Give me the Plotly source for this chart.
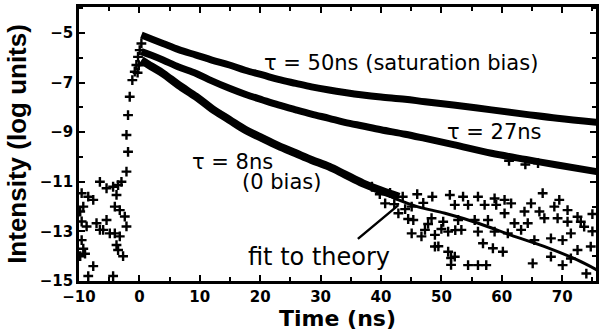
import plotly.graph_objects as go

# ---- data ----
t_curve = [0.33, 2, 3.9, 6.5, 9.4, 12, 14.9, 17.5, 20.4, 23, 25.9, 28.5, 31.4, 34, 37, 40, 44, 47.3, 52, 58.3, 64, 69.2, 75.8]
v_tau50 = [-5.08, -5.24, -5.42, -5.67, -5.89, -6.09, -6.29, -6.5, -6.69, -6.87, -7.03, -7.17, -7.3, -7.4, -7.5, -7.58, -7.67, -7.77, -7.9, -8.10, -8.28, -8.44, -8.6]
v_tau27 = [-5.75, -5.9, -6.09, -6.37, -6.63, -6.93, -7.23, -7.47, -7.70, -7.9, -8.10, -8.27, -8.44, -8.6, -8.75, -8.9, -9.08, -9.25, -9.5, -9.85, -10.1, -10.32, -10.59]
t_tau8 = [0.33, 2, 3.9, 6.5, 9.4, 12, 14.9, 17.5, 20.4, 23, 25.9, 28.5, 31.4, 34, 37, 40, 43]
v_tau8 = [-6.09, -6.35, -6.63, -7.1, -7.57, -8.05, -8.5, -8.9, -9.25, -9.55, -9.85, -10.12, -10.39, -10.7, -11.06, -11.35, -11.6]

fit_t = [31.4, 34, 37, 40, 42.9, 46, 50.6, 56.1, 61.5, 67.0, 72.5, 75.8]
fit_v = [-10.39, -10.7, -11.06, -11.4, -11.73, -12.0, -12.27, -12.67, -13.15, -13.6, -14.15, -14.56]

rise_t = [-2.14, -1.88, -2.14, -1.88, -1.60, -1.17, -0.77, -0.50, -0.23, 0.05, 0.33, -0.3, -0.1]
rise_v = [-10.59, -9.79, -9.11, -8.31, -7.57, -6.90, -6.56, -6.29, -5.96, -5.69, -5.42, -6.6, -6.3]

pre_t = [-9.56, -9.29, -8.47, -7.64, -6.54, -5.44, -4.35, -3.79, -4.07, -3.25, -3.53, -2.97, -9.56, -8.74,
         -7.1, -6.54, -5.44, -4.9, -4.07, -3.25, -2.42, -2.14, -3.79, -2.7, -9.56, -9.29, -7.64, -8.47,
         -4.35, -9.0, -6.0, -3.53, -9.8, -9.8]
pre_v = [-11.46, -12.0, -11.6, -11.73, -11.0, -11.26, -11.2, -11.53, -12.0, -12.14, -11.13, -11.0, -12.6, -12.8,
         -12.67, -12.94, -12.54, -13.08, -13.08, -13.2, -12.4, -12.8, -13.55, -14.0, -13.35, -13.7, -14.4, -14.8,
         -14.8, -13.9, -12.94, -13.75, -12.2, -14.0]

tail_t = [40.69, 42.88, 45.08, 51.40, 53.59, 56.06, 58.81, 60.46, 66.77, 69.52, 52.22, 54.42, 57.16, 59.08,
          61.55, 64.85, 63.76, 66.23, 68.70, 70.89, 72.54, 73.08, 45.35, 48.37, 50.30, 52.77, 55.52, 57.71,
          60.46, 62.10, 64.30, 67.05, 69.24, 70.89, 45.08, 47.28, 48.93, 51.12, 53.31, 56.06, 58.81, 61.0,
          63.20, 65.40, 68.14, 70.07, 71.44, 73.64, 56.89, 58.53, 60.18, 48.93, 51.12, 52.22, 54.42, 56.06,
          57.43, 65.12, 68.14, 71.44, 70.07, 72.54, 74.73, 44.5, 47.8, 50.0, 52.3, 46.7, 49.5, 51.6, 51.6,
          61.2, 63.9, 66.0, 75.0, 75.0, 74.0, 38.5, 39.8, 41.5, 42.2, 43.6, 44.0, 46.0, 47.0, 48.5]
tail_v = [-11.87, -12.27, -12.0, -11.53, -11.60, -11.60, -11.67, -11.73, -11.46, -11.73, -11.93, -11.93, -11.93, -11.93,
          -11.87, -11.87, -12.20, -12.20, -12.00, -12.14, -12.41, -12.61, -12.54, -12.47, -12.61, -12.54, -12.54, -12.54,
          -12.27, -12.67, -12.67, -12.47, -12.47, -12.61, -13.08, -12.94, -13.14, -13.01, -12.94, -13.01, -13.01, -13.08,
          -12.94, -13.35, -13.28, -13.35, -13.08, -12.81, -13.48, -13.68, -13.82, -13.61, -13.82, -14.02, -14.36, -14.36,
          -14.36, -14.29, -14.02, -14.09, -14.36, -13.75, -13.61, -12.5, -12.7, -12.9, -12.95, -13.2, -13.6, -14.07, -14.35,
          -10.15, -10.3, -10.25, -12.3, -13.0, -14.7, -11.2, -11.5, -11.45, -11.9, -11.6, -12.1, -11.5, -11.85, -11.6]

labels = ["τ = 50ns (saturation bias)", "τ = 27ns", "τ = 8ns", "(0 bias)", "fit to theory"]

BLACK = "#000000"
fig = go.Figure()

cross = dict(symbol="cross-thin", size=7, color=BLACK, line=dict(color=BLACK, width=2.4))

fig.add_trace(go.Scatter(x=pre_t, y=pre_v, mode="markers", marker=cross, showlegend=False))
fig.add_trace(go.Scatter(x=rise_t, y=rise_v, mode="markers", marker=cross, showlegend=False))
fig.add_trace(go.Scatter(x=tail_t, y=tail_v, mode="markers", marker=cross, showlegend=False))
fig.add_trace(go.Scatter(x=fit_t, y=fit_v, mode="lines", line=dict(color=BLACK, width=3, shape="spline"), showlegend=False))
fig.add_trace(go.Scatter(x=t_curve, y=v_tau50, mode="lines", line=dict(color=BLACK, width=7, shape="spline"), showlegend=False))
fig.add_trace(go.Scatter(x=t_curve, y=v_tau27, mode="lines", line=dict(color=BLACK, width=7, shape="spline"), showlegend=False))
fig.add_trace(go.Scatter(x=t_tau8, y=v_tau8, mode="lines", line=dict(color=BLACK, width=8, shape="spline"), showlegend=False))

ann_font = dict(family="DejaVu Sans", size=21, color=BLACK)
fig.add_annotation(x=20.3, y=-6.21, text=labels[0], showarrow=False, xanchor="left", yanchor="middle", font=ann_font)
fig.add_annotation(x=50.6, y=-8.99, text=labels[1], showarrow=False, xanchor="left", yanchor="middle", font=ann_font)
fig.add_annotation(x=8.3, y=-10.2, text=labels[2], showarrow=False, xanchor="left", yanchor="middle", font=ann_font)
fig.add_annotation(x=16.7, y=-11.0, text=labels[3], showarrow=False, xanchor="left", yanchor="middle", font=ann_font)
fig.add_annotation(x=17.7, y=-14.03, text=labels[4], showarrow=False, xanchor="left", yanchor="middle",
                   font=dict(family="DejaVu Sans", size=24, color=BLACK))
fig.add_annotation(x=42.88, y=-11.94, text="", showarrow=True, arrowhead=0, arrowwidth=2.5, arrowcolor=BLACK,
                   ax=-42, ay=35, axref="pixel", ayref="pixel")

tick_font = dict(family="DejaVu Sans", size=15, color=BLACK, weight="bold")
axis_common = dict(showline=True, linecolor=BLACK, linewidth=2.5, mirror="allticks", ticks="inside",
                   ticklen=6, tickwidth=2, tickcolor=BLACK, showgrid=False, zeroline=False, tickfont=tick_font)

fig.update_xaxes(range=[-10, 75.6], tick0=-10, dtick=10,
                 minor=dict(dtick=5, ticks="inside", ticklen=4, tickwidth=2, tickcolor=BLACK),
                 title=dict(text="Time (ns)", font=dict(family="DejaVu Sans", size=22, color=BLACK, weight="bold"), standoff=2),
                 **axis_common)
fig.update_yaxes(range=[-15, -3.95], tick0=-15, dtick=2,
                 minor=dict(dtick=1, ticks="inside", ticklen=4, tickwidth=2, tickcolor=BLACK),
                 title=dict(text="Intensity (log units)", font=dict(family="Liberation Sans Narrow, Liberation Sans", size=26, color=BLACK, weight="bold"), standoff=6),
                 **axis_common)

fig.update_layout(width=600, height=332, margin=dict(l=79, r=1, t=7, b=51),
                  paper_bgcolor="white", plot_bgcolor="white", showlegend=False)

fig.write_html("out.html")
